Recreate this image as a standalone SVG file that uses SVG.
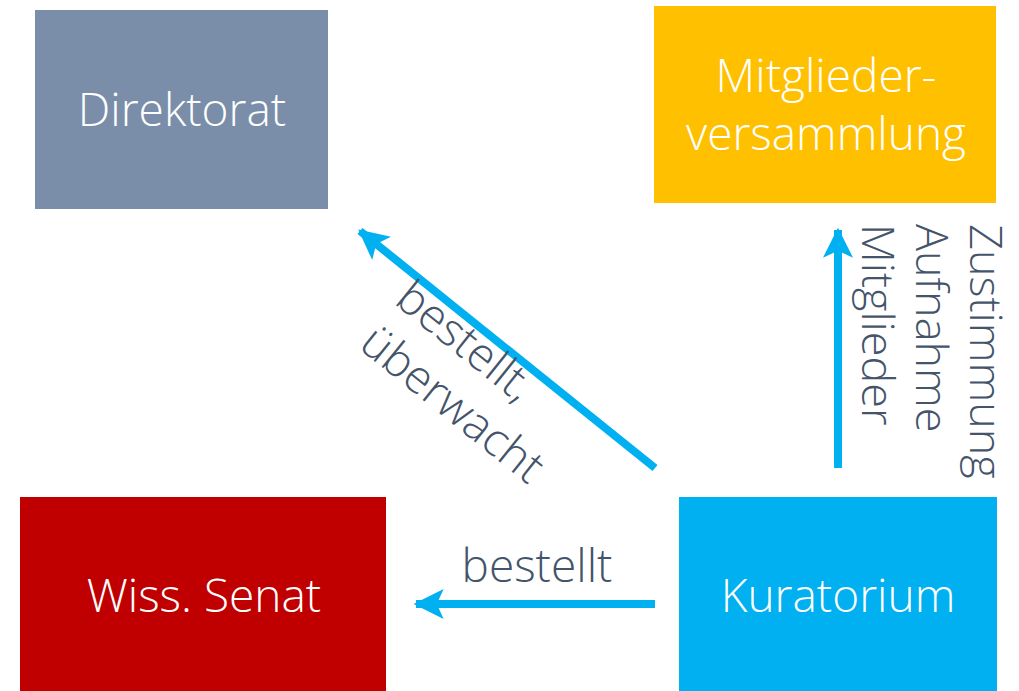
<svg xmlns="http://www.w3.org/2000/svg" width="1019" height="691" viewBox="0 0 1019 691">
<style>
.box-t{font-family:"Open Sans","Liberation Sans",sans-serif;font-weight:300;font-size:46px;fill:#FFFFFF;text-anchor:middle}
.lbl{font-family:"Open Sans","Liberation Sans",sans-serif;font-weight:300;font-size:46px;fill:#44546A}
.vl{font-size:45px}
.conn{stroke:#00B0F0;stroke-width:8;fill:none}
</style>
<defs>
<marker id="ah" markerUnits="userSpaceOnUse" markerWidth="30" markerHeight="30" refX="24" refY="13" orient="auto" viewBox="0 0 26 26">
<path d="M0,0 L26,13 L0,26 L6,13 Z" fill="#00B0F0"/>
</marker>
</defs>
<rect width="1019" height="691" fill="#FFFFFF"/>
<g id="direktorat">
<rect x="35" y="10" width="293" height="199" fill="#7A8EA9"/>
<text class="box-t" x="182" y="126">Direktorat</text>
</g>
<g id="mitgliederversammlung">
<rect x="654" y="6" width="342" height="197" fill="#FFC000"/>
<text class="box-t" x="826" y="92">Mitglieder-</text>
<text class="box-t" x="826" y="150">versammlung</text>
</g>
<g id="senat">
<rect x="20" y="497" width="366" height="194" fill="#C00000"/>
<text class="box-t" x="204" y="612">Wiss. Senat</text>
</g>
<g id="kuratorium">
<rect x="679" y="497" width="318" height="194" fill="#00B0F0"/>
<text class="box-t" x="838" y="612">Kuratorium</text>
</g>
<g id="connectors">
<line class="conn" x1="655" y1="604" x2="416" y2="604" marker-end="url(#ah)"/>
<line class="conn" x1="655" y1="468" x2="360" y2="231" marker-end="url(#ah)"/>
<line class="conn" x1="838" y1="468" x2="838" y2="230" marker-end="url(#ah)"/>
<text class="lbl" x="537" y="582" text-anchor="middle">bestellt</text>
<g transform="translate(393,303) rotate(38.8)">
<text class="lbl" x="0" y="0">bestellt,</text>
<text class="lbl" x="0" y="57">überwacht</text>
</g>
<g transform="translate(970,224) rotate(90)">
<text class="lbl vl" x="0" y="0">Zustimmung</text>
<text class="lbl vl" x="0" y="54">Aufnahme</text>
<text class="lbl vl" x="0" y="108">Mitglieder</text>
</g>
</g>
</svg>
